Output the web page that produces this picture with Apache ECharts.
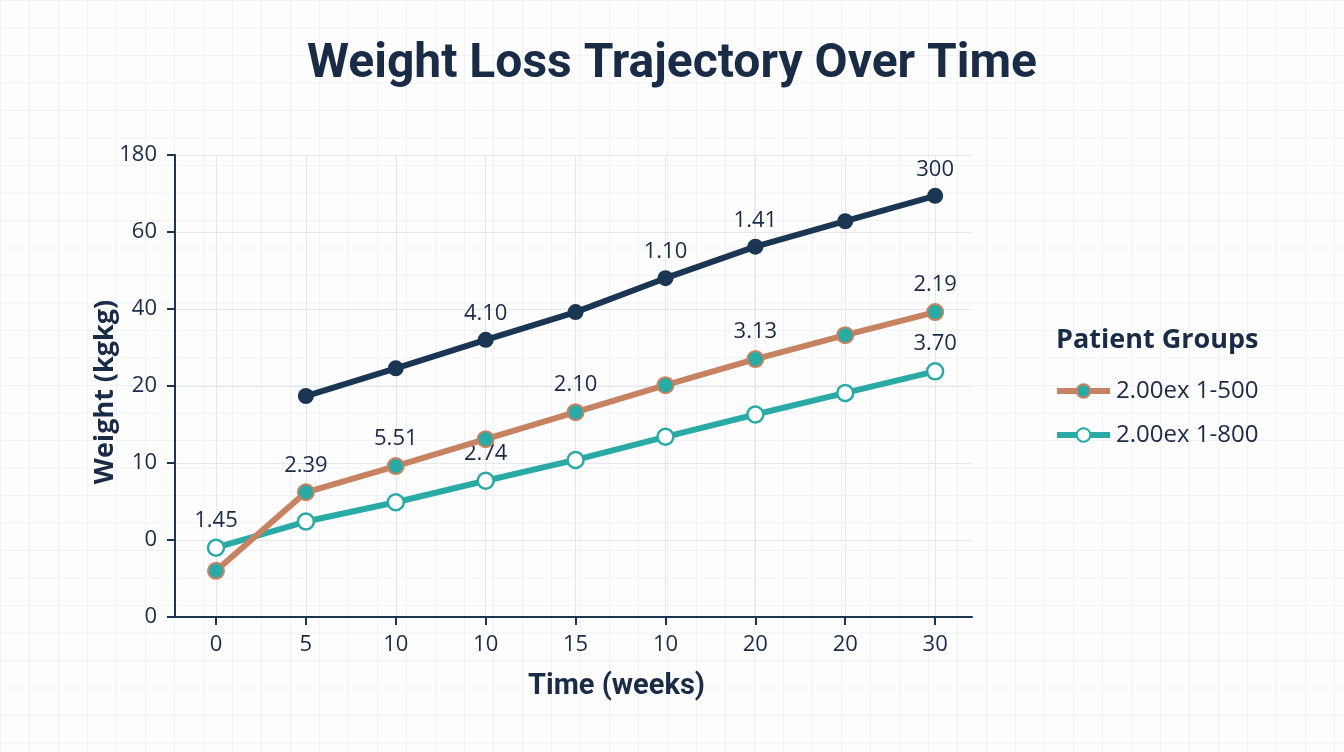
<!DOCTYPE html>
<html>
<head>
<meta charset="utf-8">
<script src="https://cdn.jsdelivr.net/npm/echarts@6/dist/echarts.min.js"></script>
<style>
  html, body { margin: 0; padding: 0; }
  body {
    background-color: #fdfdfd;
    background-image:
      linear-gradient(to right, #f0f2f3 1px, transparent 1px),
      linear-gradient(to bottom, #f0f2f3 1px, transparent 1px);
    background-size: 29px 27.5px;
  }
  #chart { width: 1344px; height: 752px; }
</style>
</head>
<body>
<div id="chart"></div>
<script>
// x categories (time labels as drawn) and y tick labels (bottom to top)
const timeLabels = ["0", "5", "10", "10", "15", "10", "20", "20", "30"];
const weightTicks = ["0", "0", "10", "20", "40", "60", "180"];

// series values, in tick-index units of the y axis
const navyValues = [null, 2.87, 3.23, 3.60, 3.96, 4.40, 4.81, 5.14, 5.47];
const brownValues = [0.60, 1.62, 1.96, 2.31, 2.66, 3.01, 3.35, 3.66, 3.96];
const tealValues = [0.90, 1.24, 1.49, 1.77, 2.04, 2.34, 2.63, 2.91, 3.19];

// point labels shown above markers
const navyLabels = ["", "", "", "4.10", "", "1.10", "1.41", "", "300"];
const brownLabels = ["", "2.39", "5.51", "", "2.10", "", "3.13", "", "2.19"];
const tealLabels = ["1.45", "", "", "2.74", "", "", "", "", "3.70"];

const groupNames = ["2.00ex 1-500", "2.00ex 1-800"];

const navy = "#1b3652";
const brown = "#c78262";
const teal = "#2aaaa5";
const ink = "#1a2b45";

const chart = echarts.init(document.getElementById("chart"));

function pts(values) {
  return values.map((v, i) => [i, v]);
}

function labelFor(labels) {
  return {
    show: true,
    position: "top",
    distance: 7,
    color: ink,
    fontFamily: "Open Sans",
    fontSize: 22,
    formatter: (p) => labels[p.dataIndex] || "",
  };
}

const ticksAt = timeLabels.map((_, i) => i);

const option = {
  animation: false,
  title: [
    {
      text: "Weight Loss Trajectory Over Time",
      left: "center",
      top: 36,
      textStyle: { fontFamily: "Roboto", fontWeight: "bold", fontSize: 48, color: ink },
    },
    {
      text: "Patient Groups",
      left: 1051,
      top: 322,
      textStyle: { fontFamily: "Open Sans", fontWeight: "bold", fontSize: 27, color: ink },
    },
  ],
  legend: {
    data: groupNames,
    orient: "vertical",
    left: 1049,
    top: 374,
    itemWidth: 53,
    itemHeight: 17,
    itemGap: 20,
    lineStyle: { width: 6 },
    textStyle: { fontFamily: "Open Sans", fontSize: 24, color: ink, padding: [0, 0, 0, 1] },
  },
  grid: { left: 175, top: 155, right: 372, bottom: 135 },
  xAxis: {
    type: "value",
    min: -0.456,
    max: 8.41,
    name: "Time (weeks)",
    nameLocation: "middle",
    nameGap: 55,
    nameTextStyle: {
      fontFamily: "Roboto", fontWeight: "bold", fontSize: 29, color: ink,
      padding: [0, 0, 0, 86],
    },
    axisLine: { show: true, onZero: false, lineStyle: { color: navy, width: 2 } },
    axisTick: { show: true, length: 8, customValues: ticksAt, lineStyle: { color: navy, width: 2 } },
    axisLabel: {
      customValues: ticksAt,
      formatter: (v) => timeLabels[Math.round(v)],
      margin: 17,
      fontFamily: "Open Sans",
      fontSize: 22,
      color: ink,
    },
    splitLine: { show: true, lineStyle: { color: "#e5e8ea", width: 1 } },
  },
  yAxis: {
    type: "value",
    min: 0,
    max: 6,
    interval: 1,
    name: "Weight (kgkg)",
    nameLocation: "middle",
    nameGap: 56,
    nameMoveOverlap: false,
    nameTextStyle: {
      fontFamily: "Open Sans", fontWeight: "bold", fontSize: 27, color: ink,
      padding: [0, 12, 0, 0],
    },
    axisLine: { show: true, onZero: false, lineStyle: { color: navy, width: 2 } },
    axisTick: { show: true, length: 8, lineStyle: { color: navy, width: 2 } },
    axisLabel: {
      formatter: (v) => weightTicks[Math.round(v)],
      margin: 18,
      fontFamily: "Open Sans",
      fontSize: 22,
      color: ink,
    },
    splitLine: { show: true, lineStyle: { color: "#e5e8ea", width: 1 } },
  },
  series: [
    {
      name: "Reference",
      type: "line",
      data: pts(navyValues),
      symbol: "circle",
      symbolSize: 16,
      lineStyle: { color: navy, width: 6 },
      itemStyle: { color: navy },
      label: labelFor(navyLabels),
      z: 3,
    },
    {
      name: groupNames[0],
      type: "line",
      data: pts(brownValues),
      symbol: "circle",
      symbolSize: 16,
      lineStyle: { color: brown, width: 6 },
      itemStyle: { color: teal, borderColor: brown, borderWidth: 2 },
      label: labelFor(brownLabels),
      z: 4,
    },
    {
      name: groupNames[1],
      type: "line",
      data: pts(tealValues),
      symbol: "circle",
      symbolSize: 16,
      lineStyle: { color: teal, width: 6 },
      itemStyle: { color: "#ffffff", borderColor: teal, borderWidth: 2.5 },
      label: labelFor(tealLabels),
      z: 3,
    },
  ],
};

chart.setOption(option);
</script>
</body>
</html>
